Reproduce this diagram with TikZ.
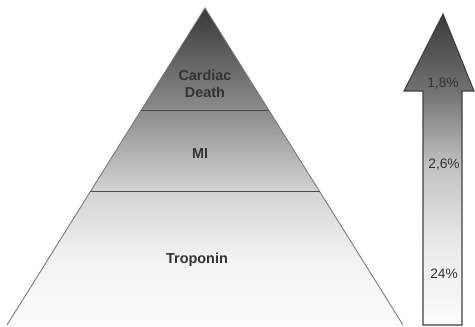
\documentclass[tikz,border=0pt]{standalone}
\usepackage{fontspec}
\setmainfont{Liberation Sans}
\usepackage{tikz}
\usetikzlibrary{calc, positioning}
\definecolor{labelgray}{HTML}{333333}
\definecolor{edgegray}{HTML}{7A7A7A}
\pgfdeclareverticalshading{pyramidfade}{100bp}{color(0bp)=(black!1); color(25bp)=(black!1);
  color(35.3bp)=(black!5); color(46bp)=(black!17); color(58.9bp)=(black!45);
  color(75bp)=(black!78); color(100bp)=(black!78)}
\pgfdeclareverticalshading{arrowfade}{100bp}{color(0bp)=(black!1); color(25bp)=(black!1);
  color(38.7bp)=(black!9); color(50.7bp)=(black!24); color(62.8bp)=(black!56);
  color(75bp)=(black!77); color(100bp)=(black!77)}

\begin{document}
\begin{tikzpicture}[x=0.02cm, y=-0.02cm,
    layer/.style={font=\bfseries\fontsize{8.2}{9.6}\selectfont, text=labelgray, align=center},
    pct/.style={font=\fontsize{7.8}{9}\selectfont, text=labelgray}]
  \useasboundingbox (0,0) rectangle (475,326);
  \begin{scope}
    \coordinate (apex) at (205,8);
    \coordinate (bl) at (7,325);
    \coordinate (br) at (403,325);
    \shade[shading=pyramidfade] (apex) -- (br) -- (bl) -- cycle;
    \draw[edgegray, line width=0.5pt] (bl) -- (apex) -- (br);
    \draw[black!70, line width=0.6pt] ($(apex)!0.322!(bl)$) -- ($(apex)!0.322!(br)$);
    \draw[black!70, line width=0.6pt] ($(apex)!0.58!(bl)$) -- ($(apex)!0.58!(br)$);
    \node[layer] (cardiac) at (205,84) {Cardiac\\Death};
    \node[layer] (mi) at (200,154) {MI};
    \node[layer] (troponin) at (197,260) {Troponin};
  \end{scope}
  \begin{scope}
    \shade[shading=arrowfade, draw=black!75, line width=0.6pt]
      (443,14) -- (474,91) -- (462,91) -- (462,325) -- (423,325) -- (423,91) -- (404,91) -- cycle;
    \node[pct] (pct18) at (443,84) {1,8\%};
    \node[pct] (pct26) at (444,165) {2,6\%};
    \node[pct] (pct24) at (444,274) {24\%};
  \end{scope}
\end{tikzpicture}
\end{document}
